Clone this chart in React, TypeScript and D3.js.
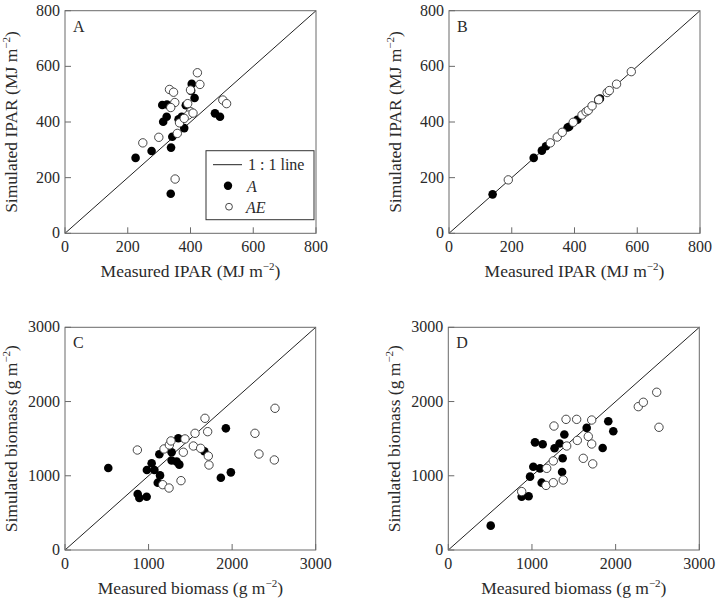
import React from "react";
import * as d3 from "d3";

// ---------- data ----------
const ipaR_A_filled: [number, number][] = [
  [225, 271], [276, 296], [338, 308], [342, 347], [337, 142], [310, 461], [325, 463],
  [313, 401], [324, 419], [404, 537], [402, 512], [413, 486], [372, 419], [362, 410],
  [380, 378], [478, 431], [494, 419], [385, 460],
];
const ipaR_A_open: [number, number][] = [
  [248, 325], [299, 345], [351, 195], [333, 517], [346, 507], [350, 470], [337, 452],
  [358, 359], [365, 397], [391, 466], [400, 515], [400, 437], [393, 425], [408, 432],
  [422, 577], [430, 535], [380, 413], [503, 479], [515, 466],
];
const ipaR_B_filled: [number, number][] = [
  [139, 140], [270, 271], [296, 297], [309, 313], [383, 383], [378, 380], [409, 408],
  [481, 484], [476, 480],
];
const ipaR_B_open: [number, number][] = [
  [189, 192], [323, 325], [345, 346], [361, 363], [396, 399], [424, 425], [437, 437],
  [444, 442], [456, 458], [477, 480], [504, 506], [511, 513], [534, 536], [581, 581],
];
const bio_C_filled: [number, number][] = [
  [518, 1105], [870, 754], [890, 700], [977, 718], [980, 1078], [1037, 1168], [1070, 1078],
  [1129, 1290], [1137, 1005], [1110, 907], [1276, 1317], [1276, 1205], [1336, 1190],
  [1356, 1505], [1368, 1150], [1667, 1330], [1925, 1639], [1865, 974], [1985, 1046],
];
const bio_C_open: [number, number][] = [
  [866, 1347], [1169, 880], [1245, 835], [1185, 1361], [1249, 1415], [1268, 1469],
  [1388, 934], [1416, 1317], [1436, 1496], [1536, 1401], [1556, 1572], [1623, 1370],
  [1675, 1774], [1707, 1594], [1715, 1266], [1723, 1145], [2273, 1572], [2321, 1293],
  [2513, 1909], [2505, 1213],
];
const bio_D_filled: [number, number][] = [
  [507, 328], [877, 718], [960, 725], [977, 988], [1016, 1122], [1096, 1100], [1036, 1450],
  [1128, 1424], [1116, 907], [1270, 1370], [1330, 1435], [1387, 1555], [1367, 1235],
  [1360, 1050], [1654, 1645], [1912, 1735], [1972, 1600], [1845, 1375],
];
const bio_D_open: [number, number][] = [
  [877, 787], [1168, 870], [1176, 1100], [1255, 1200], [1255, 907], [1263, 1670], [1374, 943],
  [1407, 1760], [1415, 1401], [1534, 1760], [1542, 1476], [1613, 1235], [1673, 1530],
  [1714, 1751], [1714, 1428], [1726, 1160], [2271, 1931], [2331, 1990], [2491, 2125],
  [2518, 1653],
];
const ipaRTicks = [0, 200, 400, 600, 800];
const bioTicks = [0, 1000, 2000, 3000];
const panelLetters = ["A", "B", "C", "D"];
const legendLabels = ["1 : 1 line", "A", "AE"];

const FONT = "'Liberation Serif', 'DejaVu Serif', serif";
const TXT = "#2a2a2a";
const FRAME = "#6a6a6a";

type PanelProps = {
  x0: number; y0: number; w: number; h: number;
  max: number; ticks: number[];
  filled: [number, number][]; open: [number, number][];
  letter: string; xTitle: string; yTitle: string; unit: string;
  legend?: boolean;
};

const Title = ({ text, unit }: { text: string; unit: string }) => (
  <>
    {text} ({unit} m
    <tspan fontSize={11} dy={-7}>−2</tspan>
    <tspan dy={7}>)</tspan>
  </>
);

function Panel(p: PanelProps) {
  const xs = d3.scaleLinear().domain([0, p.max]).range([p.x0, p.x0 + p.w]);
  const ys = d3.scaleLinear().domain([0, p.max]).range([p.y0 + p.h, p.y0]);
  const line = d3.line<number>().x((v) => xs(v)).y((v) => ys(v));
  const bottom = p.y0 + p.h;
  return (
    <g fontFamily={FONT} fill={TXT}>
      <path d={line([0, p.max]) || ""} stroke="#222" strokeWidth={1} fill="none" />
      {p.filled.map((d, i) => (
        <circle key={"f" + i} cx={xs(d[0])} cy={ys(d[1])} r={4.3} fill="#000" />
      ))}
      {p.open.map((d, i) => (
        <circle key={"o" + i} cx={xs(d[0])} cy={ys(d[1])} r={4.2} fill="#fff" stroke="#333" strokeWidth={0.9} />
      ))}
      <rect x={p.x0} y={p.y0} width={p.w} height={p.h} fill="none" stroke={FRAME} strokeWidth={1} />
      {p.ticks.map((t) => (
        <g key={"t" + t}>
          <line x1={xs(t)} x2={xs(t)} y1={bottom} y2={bottom - 6} stroke={FRAME} />
          <line x1={p.x0} x2={p.x0 + 6} y1={ys(t)} y2={ys(t)} stroke={FRAME} />
          <text x={xs(t)} y={bottom + 19} textAnchor="middle" fontSize={16}>{t}</text>
          <text x={p.x0 - 5} y={ys(t) + 5} textAnchor="end" fontSize={16}>{t}</text>
        </g>
      ))}
      <text x={p.x0 + 8} y={p.y0 + 21} fontSize={16}>{p.letter}</text>
      <text x={p.x0 + p.w / 2} y={bottom + 44} textAnchor="middle" fontSize={17.5}>
        <Title text={p.xTitle} unit={p.unit} />
      </text>
      <text
        transform={`translate(${p.x0 - 48},${p.y0 + p.h / 2}) rotate(-90)`}
        textAnchor="middle" fontSize={17.5}
      >
        <Title text={p.yTitle} unit={p.unit} />
      </text>
      {p.legend && (
        <g>
          <rect x={p.x0 + 141} y={p.y0 + 140} width={108} height={69} fill="#fff" stroke="#333" strokeWidth={1} />
          <line x1={p.x0 + 148} x2={p.x0 + 177} y1={p.y0 + 154} y2={p.y0 + 154} stroke="#222" />
          <text x={p.x0 + 183} y={p.y0 + 159} fontSize={16}>{legendLabels[0]}</text>
          <circle cx={p.x0 + 163} cy={p.y0 + 175} r={4.2} fill="#000" />
          <text x={p.x0 + 182} y={p.y0 + 181} fontSize={16} fontStyle="italic">{legendLabels[1]}</text>
          <circle cx={p.x0 + 164} cy={p.y0 + 196} r={3.4} fill="#fff" stroke="#333" strokeWidth={0.9} />
          <text x={p.x0 + 181} y={p.y0 + 202} fontSize={16} fontStyle="italic">{legendLabels[2]}</text>
        </g>
      )}
    </g>
  );
}

export default function App() {
  return (
    <svg width={720} height={604} style={{ position: "absolute", left: 0, top: 0, background: "#fff" }}>
      <rect width={720} height={604} fill="#fff" />
      <Panel x0={65} y0={10.7} w={251} h={222.6} max={800} ticks={ipaRTicks}
        filled={ipaR_A_filled} open={ipaR_A_open} letter={panelLetters[0]}
        xTitle="Measured IPAR" yTitle="Simulated IPAR" unit="MJ" legend />
      <Panel x0={449} y0={10.7} w={251} h={222.6} max={800} ticks={ipaRTicks}
        filled={ipaR_B_filled} open={ipaR_B_open} letter={panelLetters[1]}
        xTitle="Measured IPAR" yTitle="Simulated IPAR" unit="MJ" />
      <Panel x0={65} y0={327.3} w={250.7} h={222.7} max={3000} ticks={bioTicks}
        filled={bio_C_filled} open={bio_C_open} letter={panelLetters[2]}
        xTitle="Measured biomass" yTitle="Simulated biomass" unit="g" />
      <Panel x0={448.3} y0={327.3} w={251} h={222.7} max={3000} ticks={bioTicks}
        filled={bio_D_filled} open={bio_D_open} letter={panelLetters[3]}
        xTitle="Measured biomass" yTitle="Simulated biomass" unit="g" />
    </svg>
  );
}
